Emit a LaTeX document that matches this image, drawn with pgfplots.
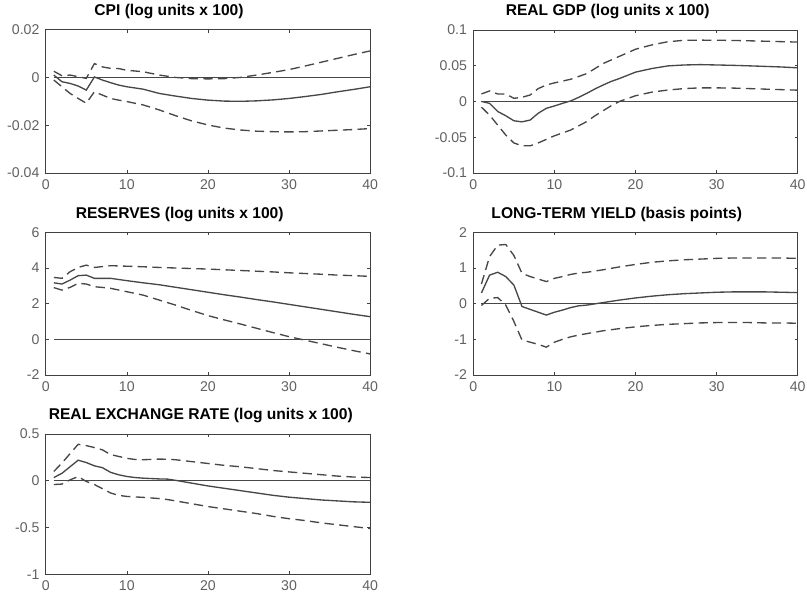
\documentclass[border=0pt]{standalone}
\usepackage{fontspec}
\setmainfont{Liberation Sans}
\usepackage{pgfplots}
\usepackage{pgfplotstable}
\pgfplotsset{compat=1.18}

\pgfplotstableread{
x mid hi lo
1 0.0010 0.0026 -0.0011
2 -0.0018 0.0007 -0.0039
3 -0.0025 0.0010 -0.0067
4 -0.0036 0.0003 -0.0088
5 -0.0053 -0.0004 -0.0108
6 0.0002 0.0058 -0.0060
7 -0.0011 0.0044 -0.0074
8 -0.0022 0.0038 -0.0088
9 -0.0032 0.0037 -0.0095
10 -0.0039 0.0030 -0.0101
12 -0.0049 0.0024 -0.0115
14 -0.0067 0.0010 -0.0136
16 -0.0078 0.0000 -0.0160
18 -0.0088 -0.0005 -0.0182
20 -0.0095 -0.0006 -0.0199
22 -0.0099 -0.0005 -0.0212
24 -0.0100 0.0000 -0.0220
26 -0.0098 0.0010 -0.0225
28 -0.0094 0.0021 -0.0227
30 -0.0088 0.0033 -0.0228
32 -0.0080 0.0048 -0.0227
34 -0.0071 0.0064 -0.0224
36 -0.0060 0.0080 -0.0221
38 -0.0050 0.0096 -0.0218
40 -0.0039 0.0111 -0.0214
}\cpi

\pgfplotstableread{
x mid hi lo
1 0.0000 0.0105 -0.0080
2 -0.0026 0.0147 -0.0190
3 -0.0140 0.0105 -0.0330
4 -0.0200 0.0105 -0.0470
5 -0.0270 0.0044 -0.0580
6 -0.0285 0.0058 -0.0620
7 -0.0260 0.0090 -0.0620
8 -0.0165 0.0180 -0.0580
9 -0.0096 0.0230 -0.0530
10 -0.0063 0.0260 -0.0480
11 -0.0026 0.0285 -0.0440
12 0.0007 0.0310 -0.0400
13 0.0058 0.0350 -0.0340
14 0.0114 0.0390 -0.0280
15 0.0175 0.0460 -0.0200
16 0.0230 0.0530 -0.0130
17 0.0280 0.0580 -0.0060
18 0.0320 0.0630 0.0000
19 0.0365 0.0680 0.0040
20 0.0410 0.0730 0.0080
22 0.0460 0.0790 0.0130
24 0.0497 0.0835 0.0160
26 0.0510 0.0855 0.0180
28 0.0515 0.0857 0.0190
30 0.0510 0.0856 0.0190
32 0.0505 0.0853 0.0187
34 0.0498 0.0848 0.0180
36 0.0490 0.0842 0.0172
38 0.0482 0.0836 0.0165
40 0.0470 0.0830 0.0158
}\gdp

\pgfplotstableread{
x mid hi lo
1 3.17 3.47 2.90
2 3.10 3.42 2.76
3 3.32 3.79 2.91
4 3.57 4.03 3.14
5 3.60 4.16 3.10
6 3.42 4.03 2.95
7 3.42 4.08 2.91
8 3.42 4.13 2.86
10 3.29 4.10 2.67
12 3.17 4.07 2.48
14 3.06 4.03 2.20
16 2.92 4.00 1.92
18 2.78 3.97 1.62
20 2.64 3.94 1.33
22 2.50 3.90 1.09
24 2.37 3.86 0.86
26 2.23 3.82 0.62
28 2.10 3.78 0.38
30 1.96 3.73 0.15
32 1.82 3.69 -0.05
34 1.68 3.65 -0.25
36 1.54 3.60 -0.45
38 1.40 3.57 -0.64
40 1.27 3.53 -0.82
}\res

\pgfplotstableread{
x mid hi lo
1 0.30 0.55 -0.05
2 0.80 1.32 0.15
3 0.88 1.64 0.17
4 0.76 1.66 -0.04
5 0.52 1.35 -0.50
6 -0.08 0.85 -1.02
7 -0.16 0.76 -1.08
8 -0.24 0.69 -1.14
9 -0.32 0.62 -1.22
10 -0.24 0.71 -1.08
11 -0.18 0.76 -1.00
12 -0.11 0.82 -0.93
13 -0.06 0.86 -0.88
14 -0.04 0.88 -0.84
16 0.03 0.95 -0.76
18 0.10 1.03 -0.70
20 0.16 1.10 -0.65
22 0.21 1.16 -0.61
24 0.25 1.20 -0.58
26 0.28 1.23 -0.56
28 0.30 1.25 -0.54
30 0.32 1.27 -0.53
32 0.33 1.28 -0.53
34 0.33 1.28 -0.53
36 0.33 1.28 -0.54
38 0.32 1.28 -0.54
40 0.31 1.27 -0.55
}\yld

\pgfplotstableread{
x mid hi lo
1 0.035 0.10 -0.04
2 0.08 0.19 -0.035
3 0.15 0.29 0.01
4 0.22 0.39 0.045
5 0.195 0.376 -0.007
6 0.16 0.355 -0.04
7 0.14 0.33 -0.085
8 0.09 0.28 -0.13
9 0.064 0.26 -0.156
10 0.046 0.24 -0.167
11 0.035 0.228 -0.172
12 0.028 0.225 -0.177
14 0.02 0.232 -0.19
15 0.018 0.23 -0.20
16 0.005 0.225 -0.215
18 -0.025 0.205 -0.245
20 -0.055 0.185 -0.275
22 -0.08 0.165 -0.30
24 -0.105 0.15 -0.325
26 -0.13 0.13 -0.35
28 -0.155 0.11 -0.38
30 -0.175 0.095 -0.405
32 -0.19 0.08 -0.425
34 -0.205 0.065 -0.45
36 -0.215 0.05 -0.47
38 -0.225 0.04 -0.49
40 -0.23 0.035 -0.51
}\rer

\pgfplotsset{
  irf/.style={
    scale only axis, width=243.3pt,
    xmin=0, xmax=40, xtick={0,10,20,30,40},
    /pgf/number format/assume math mode=true,
    scaled y ticks=false,
    tick align=inside, major tick length=2.3pt,
    axis line style={black!75, line width=0.6pt},
    tick style={black!75, line width=0.5pt},
    ticklabel style={font=\fontsize{10.6}{12}\selectfont, text=black!62},
    xticklabel style={yshift=-1.5pt},
    yticklabel style={xshift=-1.2pt},
    title style={font=\bfseries\fontsize{11.7}{13}\selectfont, anchor=base, yshift=4.5pt},
    every axis plot/.append style={line width=1pt, black!72},
  },
  band/.style={dash pattern=on 7pt off 4pt},
}

\begin{document}
\begin{tikzpicture}
\useasboundingbox (0,0) rectangle (605.25pt,446.25pt);

% CPI
\begin{axis}[irf, at={(34.3pt,316.5pt)}, anchor=south west, height=107.5pt,
  ymin=-0.04, ymax=0.02, ytick={-0.04,-0.02,0,0.02}, yticklabels={-0.04,-0.02,0,0.02},
  title={CPI (log units x 100)}, title style={at={(0.38,1)}}]
  \addplot[no marks] coordinates {(1,0) (40,0)};
  \addplot[no marks] table[x=x,y=mid] {\cpi};
  \addplot[no marks, band] table[x=x,y=hi] {\cpi};
  \addplot[no marks, band] table[x=x,y=lo] {\cpi};
\end{axis}

% GDP
\begin{axis}[irf, at={(355pt,316.5pt)}, anchor=south west, height=107.3pt,
  ymin=-0.1, ymax=0.1, ytick={-0.1,-0.05,0,0.05,0.1}, yticklabels={-0.1,-0.05,0,0.05,0.1},
  title={REAL GDP (log units x 100)}, title style={at={(0.414,1)}}]
  \addplot[no marks] coordinates {(1,0) (40,0)};
  \addplot[no marks] table[x=x,y=mid] {\gdp};
  \addplot[no marks, band] table[x=x,y=hi] {\gdp};
  \addplot[no marks, band] table[x=x,y=lo] {\gdp};
\end{axis}

% Reserves
\begin{axis}[irf, at={(34.3pt,165pt)}, anchor=south west, height=107pt,
  ymin=-2, ymax=6, ytick={-2,0,2,4,6}, yticklabels={-2,0,2,4,6},
  title={RESERVES (log units x 100)}, title style={at={(0.413,1)}}]
  \addplot[no marks] coordinates {(1,0) (40,0)};
  \addplot[no marks] table[x=x,y=mid] {\res};
  \addplot[no marks, band] table[x=x,y=hi] {\res};
  \addplot[no marks, band] table[x=x,y=lo] {\res};
\end{axis}

% Long-term yield
\begin{axis}[irf, at={(355pt,165pt)}, anchor=south west, height=107pt,
  ymin=-2, ymax=2, ytick={-2,-1,0,1,2}, yticklabels={-2,-1,0,1,2},
  title={LONG-TERM YIELD (basis points)}, title style={at={(0.442,1)}}]
  \addplot[no marks] coordinates {(1,0) (40,0)};
  \addplot[no marks] table[x=x,y=mid] {\yld};
  \addplot[no marks, band] table[x=x,y=hi] {\yld};
  \addplot[no marks, band] table[x=x,y=lo] {\yld};
\end{axis}

% Real exchange rate
\begin{axis}[irf, at={(34.3pt,15.45pt)}, anchor=south west, height=105.3pt,
  ymin=-1, ymax=0.5, ytick={-1,-0.5,0,0.5}, yticklabels={-1,-0.5,0,0.5},
  title={REAL EXCHANGE RATE (log units x 100)}, title style={at={(0.478,1)}}]
  \addplot[no marks] coordinates {(1,0) (40,0)};
  \addplot[no marks] table[x=x,y=mid] {\rer};
  \addplot[no marks, band] table[x=x,y=hi] {\rer};
  \addplot[no marks, band] table[x=x,y=lo] {\rer};
\end{axis}
\end{tikzpicture}
\end{document}
